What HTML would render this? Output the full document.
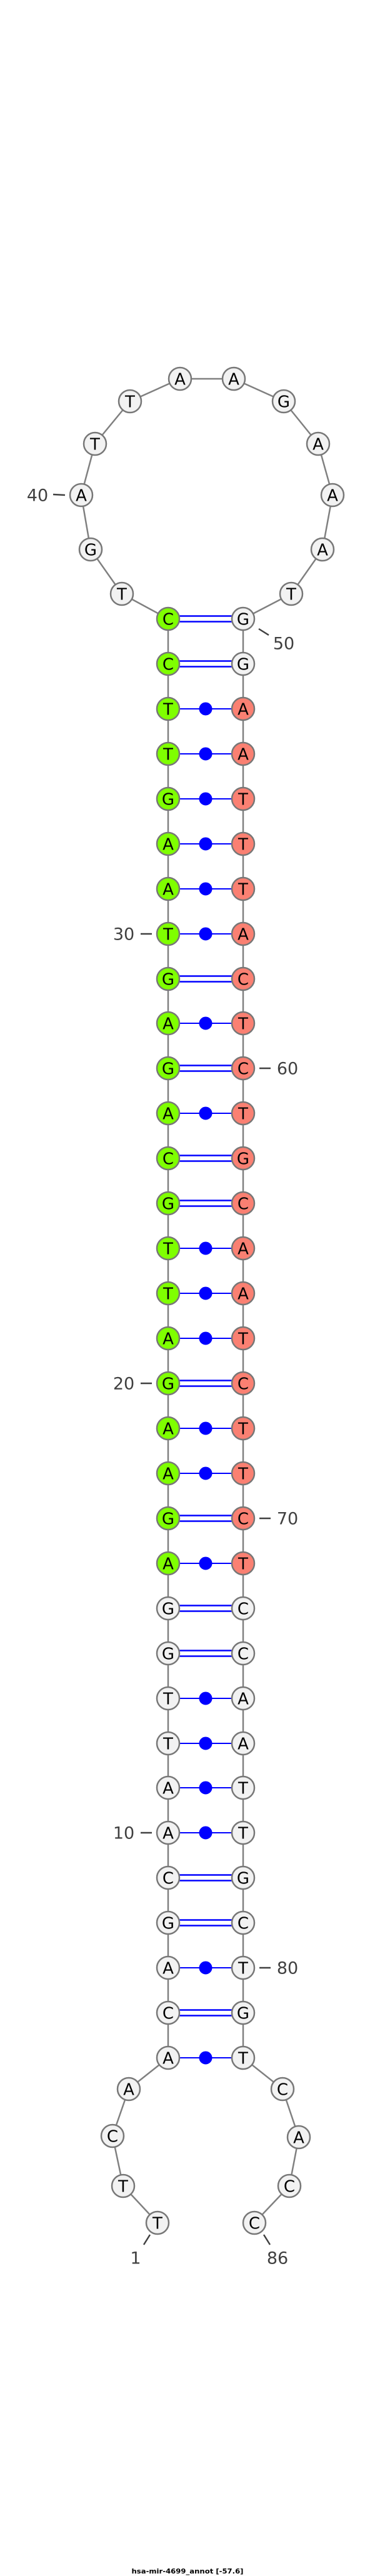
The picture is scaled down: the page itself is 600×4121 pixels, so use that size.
<!DOCTYPE html>
<html><head><meta charset="utf-8"><style>html,body{margin:0;padding:0;background:#fff}svg{display:block}</style></head><body>
<svg width="600" height="4121" viewBox="0 0 600 4121" xmlns="http://www.w3.org/2000/svg" font-family="'DejaVu Sans','Liberation Sans',sans-serif">
<g stroke="#808080" stroke-width="2.5" fill="none">
<line x1="269" y1="990" x2="269" y2="3292"/>
<line x1="389" y1="990" x2="389" y2="3292"/>
<polyline points="269,990 195,950 145,879 130,792 152,710 208,642 288,606 374,606 454,642 509,710 532,792 516,879 466,950 389,990"/>
<polyline points="269,3292 206,3342 180,3417 197,3497 252,3556"/>
<polyline points="389,3292 452,3342 478,3419 463,3497 407,3556"/>
</g>
<g stroke="#0000ff" fill="#0000ff">
<g stroke-width="2.5">
<line x1="287" y1="985.5" x2="371" y2="985.5"/><line x1="287" y1="994.5" x2="371" y2="994.5"/>
<line x1="287" y1="1057.5" x2="371" y2="1057.5"/><line x1="287" y1="1066.5" x2="371" y2="1066.5"/>
<line x1="287" y1="1561.5" x2="371" y2="1561.5"/><line x1="287" y1="1570.5" x2="371" y2="1570.5"/>
<line x1="287" y1="1704.5" x2="371" y2="1704.5"/><line x1="287" y1="1713.5" x2="371" y2="1713.5"/>
<line x1="287" y1="1848.5" x2="371" y2="1848.5"/><line x1="287" y1="1857.5" x2="371" y2="1857.5"/>
<line x1="287" y1="1920.5" x2="371" y2="1920.5"/><line x1="287" y1="1929.5" x2="371" y2="1929.5"/>
<line x1="287" y1="2208.5" x2="371" y2="2208.5"/><line x1="287" y1="2217.5" x2="371" y2="2217.5"/>
<line x1="287" y1="2424.5" x2="371" y2="2424.5"/><line x1="287" y1="2433.5" x2="371" y2="2433.5"/>
<line x1="287" y1="2568.5" x2="371" y2="2568.5"/><line x1="287" y1="2577.5" x2="371" y2="2577.5"/>
<line x1="287" y1="2640.5" x2="371" y2="2640.5"/><line x1="287" y1="2649.5" x2="371" y2="2649.5"/>
<line x1="287" y1="2999.5" x2="371" y2="2999.5"/><line x1="287" y1="3008.5" x2="371" y2="3008.5"/>
<line x1="287" y1="3071.5" x2="371" y2="3071.5"/><line x1="287" y1="3080.5" x2="371" y2="3080.5"/>
<line x1="287" y1="3215.5" x2="371" y2="3215.5"/><line x1="287" y1="3224.5" x2="371" y2="3224.5"/>
</g>
<g stroke-width="2">
<line x1="287" y1="1134" x2="371" y2="1134"/><circle cx="329" cy="1134" r="9.5"/>
<line x1="287" y1="1206" x2="371" y2="1206"/><circle cx="329" cy="1206" r="9.5"/>
<line x1="287" y1="1278" x2="371" y2="1278"/><circle cx="329" cy="1278" r="9.5"/>
<line x1="287" y1="1350" x2="371" y2="1350"/><circle cx="329" cy="1350" r="9.5"/>
<line x1="287" y1="1422" x2="371" y2="1422"/><circle cx="329" cy="1422" r="9.5"/>
<line x1="287" y1="1494" x2="371" y2="1494"/><circle cx="329" cy="1494" r="9.5"/>
<line x1="287" y1="1637" x2="371" y2="1637"/><circle cx="329" cy="1637" r="9.5"/>
<line x1="287" y1="1781" x2="371" y2="1781"/><circle cx="329" cy="1781" r="9.5"/>
<line x1="287" y1="1997" x2="371" y2="1997"/><circle cx="329" cy="1997" r="9.5"/>
<line x1="287" y1="2069" x2="371" y2="2069"/><circle cx="329" cy="2069" r="9.5"/>
<line x1="287" y1="2141" x2="371" y2="2141"/><circle cx="329" cy="2141" r="9.5"/>
<line x1="287" y1="2285" x2="371" y2="2285"/><circle cx="329" cy="2285" r="9.5"/>
<line x1="287" y1="2357" x2="371" y2="2357"/><circle cx="329" cy="2357" r="9.5"/>
<line x1="287" y1="2501" x2="371" y2="2501"/><circle cx="329" cy="2501" r="9.5"/>
<line x1="287" y1="2717" x2="371" y2="2717"/><circle cx="329" cy="2717" r="9.5"/>
<line x1="287" y1="2789" x2="371" y2="2789"/><circle cx="329" cy="2789" r="9.5"/>
<line x1="287" y1="2860" x2="371" y2="2860"/><circle cx="329" cy="2860" r="9.5"/>
<line x1="287" y1="2932" x2="371" y2="2932"/><circle cx="329" cy="2932" r="9.5"/>
<line x1="287" y1="3148" x2="371" y2="3148"/><circle cx="329" cy="3148" r="9.5"/>
<line x1="287" y1="3292" x2="371" y2="3292"/><circle cx="329" cy="3292" r="9.5"/>
</g>
</g>
<g stroke="#777" stroke-width="2.5">
<g fill="#7fff00">
<circle cx="269" cy="990" r="18"/><circle cx="269" cy="1062" r="18"/><circle cx="269" cy="1134" r="18"/><circle cx="269" cy="1206" r="18"/><circle cx="269" cy="1278" r="18"/><circle cx="269" cy="1350" r="18"/><circle cx="269" cy="1422" r="18"/><circle cx="269" cy="1494" r="18"/><circle cx="269" cy="1566" r="18"/><circle cx="269" cy="1637" r="18"/><circle cx="269" cy="1709" r="18"/><circle cx="269" cy="1781" r="18"/><circle cx="269" cy="1853" r="18"/><circle cx="269" cy="1925" r="18"/><circle cx="269" cy="1997" r="18"/><circle cx="269" cy="2069" r="18"/><circle cx="269" cy="2141" r="18"/><circle cx="269" cy="2213" r="18"/><circle cx="269" cy="2285" r="18"/><circle cx="269" cy="2357" r="18"/><circle cx="269" cy="2429" r="18"/><circle cx="269" cy="2501" r="18"/>
</g>
<g fill="#fa8072">
<circle cx="389" cy="1134" r="18"/><circle cx="389" cy="1206" r="18"/><circle cx="389" cy="1278" r="18"/><circle cx="389" cy="1350" r="18"/><circle cx="389" cy="1422" r="18"/><circle cx="389" cy="1494" r="18"/><circle cx="389" cy="1566" r="18"/><circle cx="389" cy="1637" r="18"/><circle cx="389" cy="1709" r="18"/><circle cx="389" cy="1781" r="18"/><circle cx="389" cy="1853" r="18"/><circle cx="389" cy="1925" r="18"/><circle cx="389" cy="1997" r="18"/><circle cx="389" cy="2069" r="18"/><circle cx="389" cy="2141" r="18"/><circle cx="389" cy="2213" r="18"/><circle cx="389" cy="2285" r="18"/><circle cx="389" cy="2357" r="18"/><circle cx="389" cy="2429" r="18"/><circle cx="389" cy="2501" r="18"/>
</g>
<g fill="#f2f2f2">
<circle cx="389" cy="990" r="18"/><circle cx="389" cy="1062" r="18"/>
<circle cx="269" cy="2573" r="18"/><circle cx="269" cy="2645" r="18"/><circle cx="269" cy="2717" r="18"/><circle cx="269" cy="2789" r="18"/><circle cx="269" cy="2860" r="18"/><circle cx="269" cy="2932" r="18"/><circle cx="269" cy="3004" r="18"/><circle cx="269" cy="3076" r="18"/><circle cx="269" cy="3148" r="18"/><circle cx="269" cy="3220" r="18"/><circle cx="269" cy="3292" r="18"/>
<circle cx="389" cy="2573" r="18"/><circle cx="389" cy="2645" r="18"/><circle cx="389" cy="2717" r="18"/><circle cx="389" cy="2789" r="18"/><circle cx="389" cy="2860" r="18"/><circle cx="389" cy="2932" r="18"/><circle cx="389" cy="3004" r="18"/><circle cx="389" cy="3076" r="18"/><circle cx="389" cy="3148" r="18"/><circle cx="389" cy="3220" r="18"/><circle cx="389" cy="3292" r="18"/>
<circle cx="195" cy="950" r="18"/><circle cx="145" cy="879" r="18"/><circle cx="130" cy="792" r="18"/><circle cx="152" cy="710" r="18"/><circle cx="208" cy="642" r="18"/><circle cx="288" cy="606" r="18"/><circle cx="374" cy="606" r="18"/><circle cx="454" cy="642" r="18"/><circle cx="509" cy="710" r="18"/><circle cx="532" cy="792" r="18"/><circle cx="516" cy="879" r="18"/><circle cx="466" cy="950" r="18"/>
<circle cx="206" cy="3342" r="18"/><circle cx="180" cy="3417" r="18"/><circle cx="197" cy="3497" r="18"/><circle cx="252" cy="3556" r="18"/>
<circle cx="452" cy="3342" r="18"/><circle cx="478" cy="3419" r="18"/><circle cx="463" cy="3497" r="18"/><circle cx="407" cy="3556" r="18"/>
</g>
</g>
<g font-size="26" text-anchor="middle" fill="#000">
<text x="269" y="990" dy=".36em">C</text><text x="269" y="1062" dy=".36em">C</text><text x="269" y="1134" dy=".36em">T</text><text x="269" y="1206" dy=".36em">T</text><text x="269" y="1278" dy=".36em">G</text><text x="269" y="1350" dy=".36em">A</text><text x="269" y="1422" dy=".36em">A</text><text x="269" y="1494" dy=".36em">T</text><text x="269" y="1566" dy=".36em">G</text><text x="269" y="1637" dy=".36em">A</text><text x="269" y="1709" dy=".36em">G</text><text x="269" y="1781" dy=".36em">A</text><text x="269" y="1853" dy=".36em">C</text><text x="269" y="1925" dy=".36em">G</text><text x="269" y="1997" dy=".36em">T</text><text x="269" y="2069" dy=".36em">T</text><text x="269" y="2141" dy=".36em">A</text><text x="269" y="2213" dy=".36em">G</text><text x="269" y="2285" dy=".36em">A</text><text x="269" y="2357" dy=".36em">A</text><text x="269" y="2429" dy=".36em">G</text><text x="269" y="2501" dy=".36em">A</text><text x="269" y="2573" dy=".36em">G</text><text x="269" y="2645" dy=".36em">G</text><text x="269" y="2717" dy=".36em">T</text><text x="269" y="2789" dy=".36em">T</text><text x="269" y="2860" dy=".36em">A</text><text x="269" y="2932" dy=".36em">A</text><text x="269" y="3004" dy=".36em">C</text><text x="269" y="3076" dy=".36em">G</text><text x="269" y="3148" dy=".36em">A</text><text x="269" y="3220" dy=".36em">C</text><text x="269" y="3292" dy=".36em">A</text>
<text x="389" y="990" dy=".36em">G</text><text x="389" y="1062" dy=".36em">G</text><text x="389" y="1134" dy=".36em">A</text><text x="389" y="1206" dy=".36em">A</text><text x="389" y="1278" dy=".36em">T</text><text x="389" y="1350" dy=".36em">T</text><text x="389" y="1422" dy=".36em">T</text><text x="389" y="1494" dy=".36em">A</text><text x="389" y="1566" dy=".36em">C</text><text x="389" y="1637" dy=".36em">T</text><text x="389" y="1709" dy=".36em">C</text><text x="389" y="1781" dy=".36em">T</text><text x="389" y="1853" dy=".36em">G</text><text x="389" y="1925" dy=".36em">C</text><text x="389" y="1997" dy=".36em">A</text><text x="389" y="2069" dy=".36em">A</text><text x="389" y="2141" dy=".36em">T</text><text x="389" y="2213" dy=".36em">C</text><text x="389" y="2285" dy=".36em">T</text><text x="389" y="2357" dy=".36em">T</text><text x="389" y="2429" dy=".36em">C</text><text x="389" y="2501" dy=".36em">T</text><text x="389" y="2573" dy=".36em">C</text><text x="389" y="2645" dy=".36em">C</text><text x="389" y="2717" dy=".36em">A</text><text x="389" y="2789" dy=".36em">A</text><text x="389" y="2860" dy=".36em">T</text><text x="389" y="2932" dy=".36em">T</text><text x="389" y="3004" dy=".36em">G</text><text x="389" y="3076" dy=".36em">C</text><text x="389" y="3148" dy=".36em">T</text><text x="389" y="3220" dy=".36em">G</text><text x="389" y="3292" dy=".36em">T</text>
<text x="195" y="950" dy=".36em">T</text><text x="145" y="879" dy=".36em">G</text><text x="130" y="792" dy=".36em">A</text><text x="152" y="710" dy=".36em">T</text><text x="208" y="642" dy=".36em">T</text><text x="288" y="606" dy=".36em">A</text><text x="374" y="606" dy=".36em">A</text><text x="454" y="642" dy=".36em">G</text><text x="509" y="710" dy=".36em">A</text><text x="532" y="792" dy=".36em">A</text><text x="516" y="879" dy=".36em">A</text><text x="466" y="950" dy=".36em">T</text>
<text x="206" y="3342" dy=".36em">A</text><text x="180" y="3417" dy=".36em">C</text><text x="197" y="3497" dy=".36em">T</text><text x="252" y="3556" dy=".36em">T</text>
<text x="452" y="3342" dy=".36em">C</text><text x="478" y="3419" dy=".36em">A</text><text x="463" y="3497" dy=".36em">C</text><text x="407" y="3556" dy=".36em">C</text>
</g>
<g stroke="#404040" stroke-width="2.5">
<line x1="85" y1="791" x2="104" y2="792"/>
<line x1="414" y1="1006" x2="430" y2="1016"/>
<line x1="225" y1="1494" x2="243" y2="1494"/>
<line x1="415" y1="1709" x2="433" y2="1709"/>
<line x1="225" y1="2213" x2="243" y2="2213"/>
<line x1="415" y1="2429" x2="433" y2="2429"/>
<line x1="225" y1="2932" x2="243" y2="2932"/>
<line x1="415" y1="3148" x2="433" y2="3148"/>
<line x1="230" y1="3591" x2="240" y2="3575"/>
<line x1="422" y1="3575" x2="432" y2="3591"/>
</g>
<g font-size="27" fill="#404040" text-anchor="middle">
<text x="60" y="792" dy=".36em">40</text>
<text x="454" y="1029" dy=".36em">50</text>
<text x="198" y="1494" dy=".36em">30</text>
<text x="460" y="1709" dy=".36em">60</text>
<text x="198" y="2213" dy=".36em">20</text>
<text x="460" y="2429" dy=".36em">70</text>
<text x="198" y="2932" dy=".36em">10</text>
<text x="460" y="3148" dy=".36em">80</text>
<text x="217" y="3612" dy=".36em">1</text>
<text x="444" y="3612" dy=".36em">86</text>
</g>
<text x="300" y="4117" font-size="11" font-weight="bold" text-anchor="middle" textLength="179" lengthAdjust="spacingAndGlyphs" fill="#000">hsa-mir-4699_annot [-57.6]</text>
</svg>
</body></html>
